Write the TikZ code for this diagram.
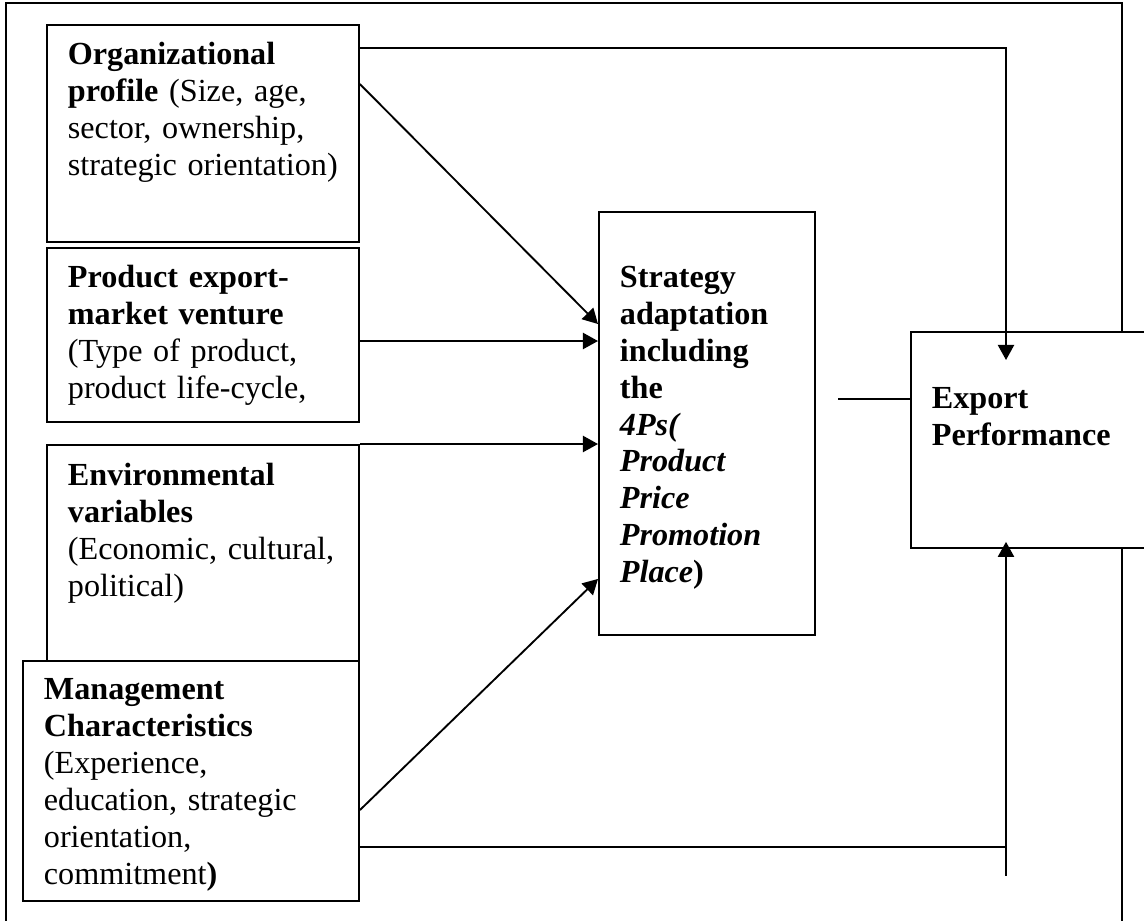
\documentclass[tikz,border=0pt]{standalone}
\usepackage{fontspec}
\setmainfont{Liberation Serif}
\usetikzlibrary{arrows.meta,calc}

\tikzset{
  box/.style={draw,line width=.7pt,anchor=north west,align=left,
    inner xsep=7.83pt,inner ysep=0pt,font=\fontsize{12}{13.8}\selectfont},
  arr/.style={line width=.7pt,-{Triangle[length=5.6pt,width=6pt]}},
  link/.style={line width=.7pt}
}

\begin{document}
\begin{tikzpicture}[x=0.373pt,y=-0.373pt]
\useasboundingbox (0,0) rectangle (1144,920);
% frame, open at the bottom
\draw[line width=1.1pt] (6,925) -- (6,3) -- (1122,3) -- (1122,925);

\node[box,text width=100.7pt,text height=14.92pt,text depth=66pt] (org) at (46,24)
  {\textbf{Organizational}\\ \textbf{profile} (Size, age,\\ sector, ownership,\\ strategic orientation)};
\node[box,text width=100.7pt,text height=14.92pt,text depth=50pt] (prod) at (46,247)
  {\textbf{Product export-}\\ \textbf{market venture}\\ (Type of product,\\ product life-cycle,};
\node[box,text width=100.7pt,text height=15.3pt,text depth=65.3pt] (env) at (46,444)
  {\textbf{Environmental}\\ \textbf{variables}\\ (Economic, cultural,\\ political)};
\node[box,text width=109.7pt,text height=14.55pt,text depth=75pt] (mgmt) at (22,660)
  {\textbf{Management}\\ \textbf{Characteristics}\\ (Experience,\\ education, strategic\\ orientation,\\ commitment\textbf{)}};
\node[box,text width=64.9pt,text height=28pt,text depth=129.8pt] (strat) at (598,211)
  {\textbf{Strategy}\\ \textbf{adaptation}\\ \textbf{including}\\ \textbf{the}\\
   \textbf{\textit{4Ps(}}\\ \textbf{\textit{Product}}\\ \textbf{\textit{Price}}\\
   \textbf{\textit{Promotion}}\\ \textbf{\textit{Place})}};
\node[box,fill=white,text width=76.8pt,text height=28.7pt,text depth=51.85pt] (export) at (910,331)
  {\textbf{Export}\\ \textbf{Performance}};

% arrow ends inside the result box
\coordinate (topin) at ($(export.north west)+(96,29)$);
\coordinate (botin) at ($(export.south west)+(96,-7)$);
\coordinate (prodout) at ($(prod.north east)+(0,94)$);
\coordinate (mgmtout) at ($(mgmt.north east)+(0,187)$);

\draw[arr] ($(org.north east)+(0,24)$) -| (topin);
\draw[arr] ($(org.north east)+(0,60)$) -- ($(strat.north west)+(0,113)$);
\draw[arr] (prodout) -- (prodout -| strat.west);
\draw[arr] (env.north east) -- (env.north east -| strat.west);
\draw[arr] ($(mgmt.north east)+(0,150)$) -- ($(strat.south west)+(0,-57)$);
\draw[arr] (mgmtout) -| (botin);
\draw[link] (mgmtout -| botin) -- ++(0,29);
\draw[link] ($(export.north west)+(0,68)$) -- ++(-72,0);
\end{tikzpicture}
\end{document}
